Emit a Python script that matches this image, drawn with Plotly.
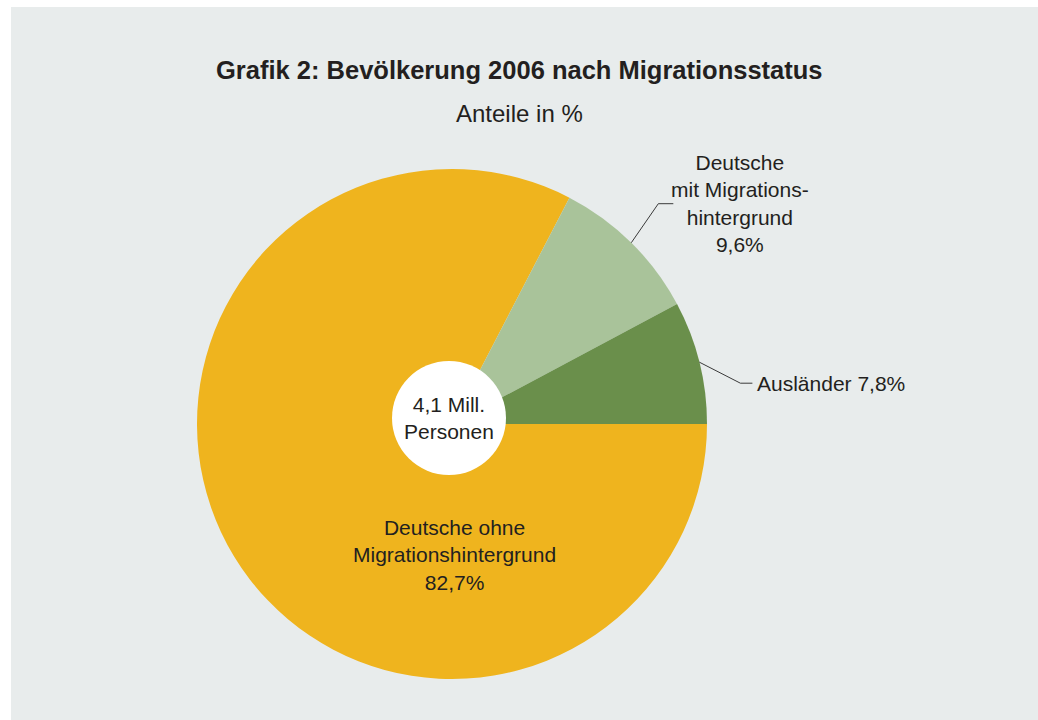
import numpy as np
import plotly.graph_objects as go

# data
groups = ["Ausländer", "Deutsche mit Migrationshintergrund", "Deutsche ohne Migrationshintergrund"]
shares = [7.8, 9.6, 82.7]
share_labels = ["7,8%", "9,6%", "82,7%"]
colors = ["#6a8f4b", "#a9c39a", "#efb41e"]
total_text = "4,1 Mill.<br>Personen"

W, H = 1038, 720
FONT = "Liberation Sans, Arial, sans-serif"
TXT = "#231f20"

# pie geometry in page pixels
cx, cy, r = 452, 424, 255
hole_r = 57


def px(x):
    return x / W


def py(y):
    return 1 - y / H


fig = go.Figure()

# slices run counterclockwise from 3 o'clock: draw them clockwise in reverse order
fig.add_trace(
    go.Pie(
        labels=groups[::-1],
        values=shares[::-1],
        sort=False,
        direction="clockwise",
        rotation=90,
        marker=dict(colors=colors[::-1], line=dict(width=0)),
        textinfo="none",
        hoverinfo="label+value",
        domain=dict(x=[px(cx - r), px(cx + r)], y=[py(cy + r), py(cy - r)]),
        showlegend=False,
    )
)

# mid-angles of the slices (counterclockwise from 3 o'clock), used for leader lines
fracs = np.array(shares) / sum(shares)
starts = np.concatenate([[0], np.cumsum(fracs)[:-1]])
mids = (starts + fracs / 2) * 2 * np.pi


def edge_point(i):
    return cx + r * np.cos(mids[i]), cy - r * np.sin(mids[i])


shapes = [
    # grey panel
    dict(type="rect", xref="paper", yref="paper", x0=px(11), x1=1, y0=0, y1=py(7),
         fillcolor="#e8ecec", line=dict(width=0), layer="below"),
    # white centre disc
    dict(type="circle", xref="paper", yref="paper",
         x0=px(449 - hole_r), x1=px(449 + hole_r), y0=py(418 + hole_r), y1=py(418 - hole_r),
         fillcolor="white", line=dict(width=0)),
]

annotations = []

# Ausländer: leader line and label
ex, ey = edge_point(0)
kx, ky = ex + 41, ey + 21
shapes.append(dict(type="path", xref="paper", yref="paper",
                   path=f"M {px(ex)} {py(ey)} L {px(kx)} {py(ky)} L {px(kx + 12)} {py(ky)}",
                   line=dict(color="#3a3a3a", width=1)))
annotations.append(dict(x=px(kx + 15), y=py(ky), xref="paper", yref="paper",
                        text=f"{groups[0]} {share_labels[0]}", showarrow=False,
                        xanchor="left", yanchor="middle"))

# Deutsche mit Migrationshintergrund
ex, ey = edge_point(1)
kx, ky = ex + 27, ey - 39
shapes.append(dict(type="path", xref="paper", yref="paper",
                   path=f"M {px(ex)} {py(ey)} L {px(kx)} {py(ky)} L {px(kx + 15)} {py(ky)}",
                   line=dict(color="#3a3a3a", width=1)))
annotations.append(dict(x=px(740), y=py(ky), xref="paper", yref="paper",
                        text=f"Deutsche<br>mit Migrations-<br>hintergrund<br>{share_labels[1]}",
                        showarrow=False, xanchor="center", yanchor="middle"))

# Deutsche ohne Migrationshintergrund (inside)
annotations.append(dict(x=px(454), y=py(555), xref="paper", yref="paper",
                        text=f"Deutsche ohne<br>Migrationshintergrund<br>{share_labels[2]}",
                        showarrow=False, xanchor="center", yanchor="middle"))

# centre text
annotations.append(dict(x=px(449), y=py(418), xref="paper", yref="paper",
                        text=total_text, showarrow=False, xanchor="center", yanchor="middle"))

# title and subtitle
annotations.append(dict(x=px(519), y=py(70), xref="paper", yref="paper",
                        text="<b>Grafik 2: Bevölkerung 2006 nach Migrationsstatus</b>",
                        showarrow=False, xanchor="center", yanchor="middle",
                        font=dict(size=25.5, color=TXT, family=FONT)))
annotations.append(dict(x=px(519), y=py(113), xref="paper", yref="paper",
                        text="Anteile in %", showarrow=False, xanchor="center", yanchor="middle",
                        font=dict(size=24, color=TXT, family=FONT)))

fig.update_layout(
    width=W,
    height=H,
    margin=dict(l=0, r=0, t=0, b=0),
    paper_bgcolor="white",
    font=dict(family=FONT, size=21, color=TXT),
    shapes=shapes,
    annotations=annotations,
)

# drop the default body margin so the figure fills the window
fig.write_html(
    "out.html",
    config={"displayModeBar": False},
    post_script="document.body.style.margin = '0';",
)
